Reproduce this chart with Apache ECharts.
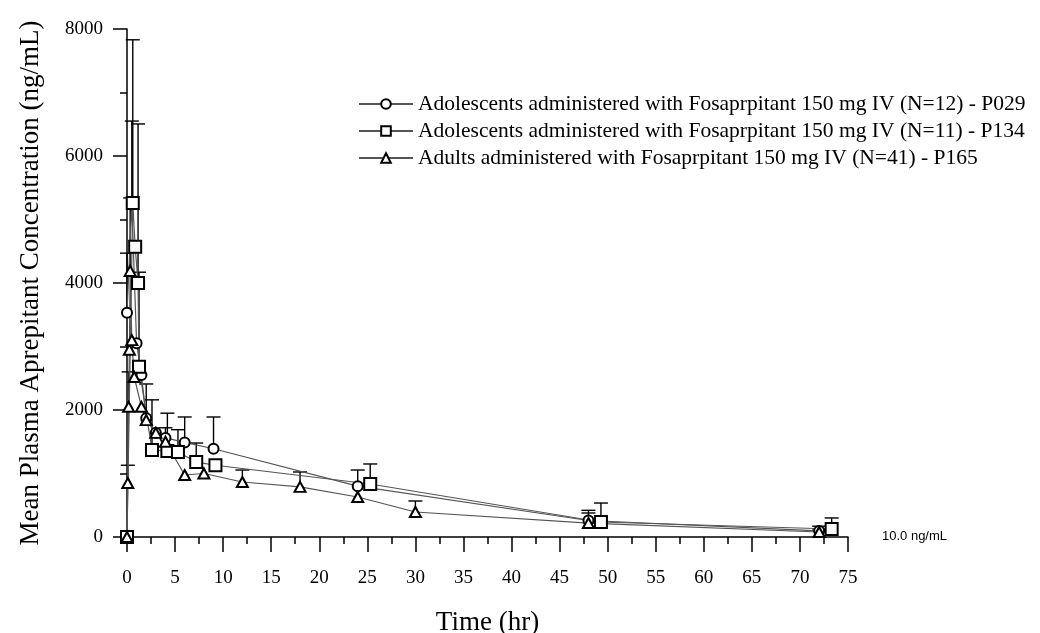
<!DOCTYPE html>
<html>
<head>
<meta charset="utf-8">
<script src="https://cdn.jsdelivr.net/npm/echarts@6/dist/echarts.min.js"></script>
<style>
html,body{margin:0;padding:0;background:#fff;}
#chart{width:1040px;height:633px;}
</style>
</head>
<body>
<div id="chart"></div>
<script>
// ---- Data ----
const seriesNames = [
  'Adolescents administered with Fosaprpitant 150 mg IV (N=12) - P029',
  'Adolescents administered with Fosaprpitant 150 mg IV (N=11) - P134',
  'Adults administered with Fosaprpitant 150 mg IV (N=41) - P165'
];

// P029 (circles): time (hr), mean (ng/mL), upper end of error bar (mean + SD)
const timeP029  = [0,    0.5,  1,    1.5,  2,    3,    4,    6,    9,    24,   48,  72];
const meanP029  = [3530, 5240, 3050, 2550, 1870, 1640, 1560, 1490, 1390, 800,  260, 95];
const upperP029 = [4470, 6550, null, null, 2410, null, 1720, 1890, 1890, null, 420, 170];

// P134 (squares)
const timeP134  = [0,    0.6,  0.85, 1.15, 1.25, 2.6,  4.2,  5.3,  7.2,  9.2,  25.3, 49.3, 73.3];
const meanP134  = [0,    5260, 4570, 4000, 2680, 1370, 1355, 1340, 1180, 1130, 835,  236,  126];
const upperP134 = [null, 7830, null, 6505, 4170, 2160, 1950, 1690, 1480, null, 1150, 535,  300];

// P165 (triangles)
const timeP165  = [0,    0.083, 0.17, 0.25, 0.33, 0.5,  0.75, 1.5,  2,    3,    4,    6,    8,    12,   18,   24,   30,  48,  72];
const meanP165  = [0,    850,   2050, 2950, 4190, 3100, 2520, 2050, 1840, 1640, 1500, 976,  1000, 866,  790,  630,  394, 220, 79];
const upperP165 = [null, 1130,  2600, null, 5340, null, null, null, null, null, null, null, null, 1055, 1024, 1055, 567, 378, 110];

const xTicks = {min: 0, max: 75, interval: 5};
const yTicks = {min: 0, max: 8000, interval: 2000};
const lloqValue = 10;
const lloqLabel = '10.0 ng/mL';

// ---- Build ----
function pairs(t, m){ return t.map((v,i)=>[v, m[i]]); }
function errRows(t, m, u){
  const rows = [];
  t.forEach((v,i)=>{ if(u[i] != null) rows.push([v, m[i], u[i]]); });
  return rows;
}
function errRender(params, api){
  const x = api.value(0), y = api.value(1), u = api.value(2);
  const p0 = api.coord([x, y]);
  const p1 = api.coord([x, u]);
  const w = 7;
  const st = {stroke:'#000', lineWidth:1.4};
  return {type:'group', children:[
    {type:'line', shape:{x1:p0[0], y1:p0[1], x2:p1[0], y2:p1[1]}, style:st},
    {type:'line', shape:{x1:p1[0]-w, y1:p1[1], x2:p1[0]+w, y2:p1[1]}, style:st}
  ]};
}

const serif = 'Liberation Serif, Times New Roman, serif';
const lineStyle = {color:'#555', width:1.2};

const chart = echarts.init(document.getElementById('chart'), null, {renderer:'canvas'});
chart.setOption({
  backgroundColor:'#fff',
  animation:false,
  grid:{left:127, right:192, top:29, bottom:96, containLabel:false, outerBoundsMode:'none'},
  legend:{
    orient:'vertical', left:358, top:93, padding:0,
    data: seriesNames,
    itemWidth:54, itemHeight:12, itemGap:5,
    textStyle:{fontFamily:serif, fontSize:21.5, color:'#000', lineHeight:21},
  },
  xAxis:{
    type:'value', min:xTicks.min, max:xTicks.max, interval:xTicks.interval,
    name:'Time (hr)', nameLocation:'middle', nameGap:72,
    nameTextStyle:{fontFamily:serif, fontSize:27, color:'#000'},
    axisLine:{show:true, lineStyle:{color:'#000', width:1.5}},
    axisTick:{show:true, length:15, lineStyle:{color:'#000', width:1.5}},
    minorTick:{show:true, splitNumber:2, length:7, lineStyle:{color:'#000', width:1.5}},
    axisLabel:{fontFamily:serif, fontSize:19, color:'#000', margin:32},
    splitLine:{show:false}
  },
  yAxis:{
    type:'value', min:yTicks.min, max:yTicks.max, interval:yTicks.interval,
    name:'Mean Plasma Aprepitant Concentration (ng/mL)', nameLocation:'middle', nameGap:83,
    nameTextStyle:{fontFamily:serif, fontSize:27, color:'#000'},
    axisLine:{show:true, lineStyle:{color:'#000', width:1.5}},
    axisTick:{show:true, length:14, lineStyle:{color:'#000', width:1.5}},
    minorTick:{show:true, splitNumber:2, length:7, lineStyle:{color:'#000', width:1.5}},
    axisLabel:{fontFamily:serif, fontSize:19, color:'#000', margin:24, formatter:(v)=>String(v)},
    splitLine:{show:false}
  },
  series:[
    {type:'custom', name:'errP029', renderItem:errRender, data:errRows(timeP029, meanP029, upperP029), encode:{x:0,y:1}, z:1, silent:true},
    {type:'custom', name:'errP134', renderItem:errRender, data:errRows(timeP134, meanP134, upperP134), encode:{x:0,y:1}, z:1, silent:true},
    {type:'custom', name:'errP165', renderItem:errRender, data:errRows(timeP165, meanP165, upperP165), encode:{x:0,y:1}, z:1, silent:true},
    {type:'line', name:seriesNames[0], data:pairs(timeP029, meanP029), symbol:'emptyCircle', symbolSize:10,
      showAllSymbol:true, color:'#000', itemStyle:{color:'#000', borderWidth:1.3}, lineStyle:lineStyle, z:3},
    {type:'line', name:seriesNames[1], data:pairs(timeP134, meanP134), symbol:'emptyRect', symbolSize:12,
      showAllSymbol:true, color:'#000', itemStyle:{color:'#000', borderWidth:1.5}, lineStyle:lineStyle, z:3},
    {type:'line', name:seriesNames[2], data:pairs(timeP165, meanP165), symbol:'emptyTriangle', symbolSize:[11,10],
      showAllSymbol:true, color:'#000', itemStyle:{color:'#000', borderWidth:1.3}, lineStyle:lineStyle, z:3,
      markLine:{
        silent:true, symbol:['none','none'],
        lineStyle:{color:'rgba(0,0,0,0)', width:0, type:'solid'},
        data:[{yAxis:lloqValue}],
        label:{show:true, position:'end', distance:34, formatter:lloqLabel,
          fontFamily:'Liberation Sans, Arial, sans-serif', fontSize:13, color:'#000'}
      }}
  ]
});
</script>
</body>
</html>
